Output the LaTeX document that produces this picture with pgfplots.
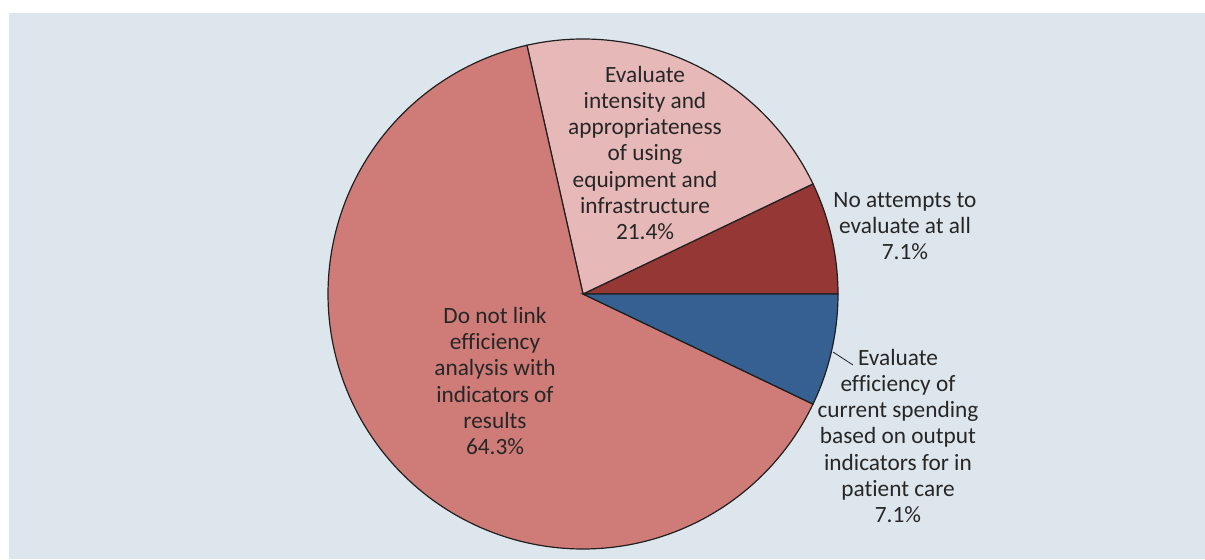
\documentclass[border=0pt]{standalone}
\usepackage{fontspec}
\setmainfont{Carlito}[Ligatures=NoCommon]
\usepackage{pgfplots}
\pgfplotsset{compat=1.18}
\definecolor{bg}{HTML}{DEE6ED}
\definecolor{cBig}{HTML}{CF7B78}
\definecolor{cPink}{HTML}{E6B9B8}
\definecolor{cDark}{HTML}{953735}
\definecolor{cBlue}{HTML}{366092}
\definecolor{txt}{HTML}{262626}
\definecolor{edge}{HTML}{1F1F1F}
\tikzset{lbl/.style={font=\fontsize{23.4pt}{26.2pt}\selectfont, text=txt, align=center, inner sep=0pt}}
% shares (percent)
\def\sDark{7.1}
\def\sPink{21.4}
\def\sBig{64.3}
\def\sBlue{7.1}
\pgfmathsetmacro\tot{\sDark+\sPink+\sBig+\sBlue}
\pgfmathsetmacro\aA{0}
\pgfmathsetmacro\aB{\aA+\sDark/\tot*360}
\pgfmathsetmacro\aC{\aB+\sPink/\tot*360}
\pgfmathsetmacro\aD{\aC+\sBig/\tot*360}
\pgfmathsetmacro\aE{\aD+\sBlue/\tot*360}
\begin{document}
\begin{tikzpicture}
\begin{axis}[
  hide axis, scale only axis,
  width=1205bp, height=559bp,
  xmin=0, xmax=1205, ymin=0, ymax=559,
  clip=false,
]
\addplot[draw=none, fill=white] coordinates {(0,0) (1205,0) (1205,559) (0,559)} -- cycle;
\addplot[draw=none, fill=bg] coordinates {(9,0) (1205,0) (1205,546) (9,546)} -- cycle;
% wedges
\addplot[fill=cDark, draw=edge, line width=1.2bp, domain=\aA:\aB, samples=40, variable=\t]
  ({583+255*cos(t)},{265+255*sin(t)}) -- (axis cs:583,265) -- cycle;
\addplot[fill=cPink, draw=edge, line width=1.2bp, domain=\aB:\aC, samples=80, variable=\t]
  ({583+255*cos(t)},{265+255*sin(t)}) -- (axis cs:583,265) -- cycle;
\addplot[fill=cBig, draw=edge, line width=1.2bp, domain=\aC:\aD, samples=200, variable=\t]
  ({583+255*cos(t)},{265+255*sin(t)}) -- (axis cs:583,265) -- cycle;
\addplot[fill=cBlue, draw=edge, line width=1.2bp, domain=\aD:\aE, samples=40, variable=\t]
  ({583+255*cos(t)},{265+255*sin(t)}) -- (axis cs:583,265) -- cycle;
% leader line
\addplot[draw=edge, line width=0.8bp] coordinates {(833,207) (853,194)};
% labels
\node[lbl] at (axis cs:645,406) {Evaluate\\intensity and\\appropriateness\\of using\\equipment and\\infrastructure\\21.4\%};
\node[lbl] at (axis cs:905,333) {No attempts to\\evaluate at all\\7.1\%};
\node[lbl] at (axis cs:898,123) {Evaluate\\efficiency of\\current spending\\based on output\\indicators for in\\patient care\\7.1\%};
\node[lbl] at (axis cs:495,178) {Do not link\\efficiency\\analysis with\\indicators of\\results\\64.3\%};
\end{axis}
\end{tikzpicture}
\end{document}
